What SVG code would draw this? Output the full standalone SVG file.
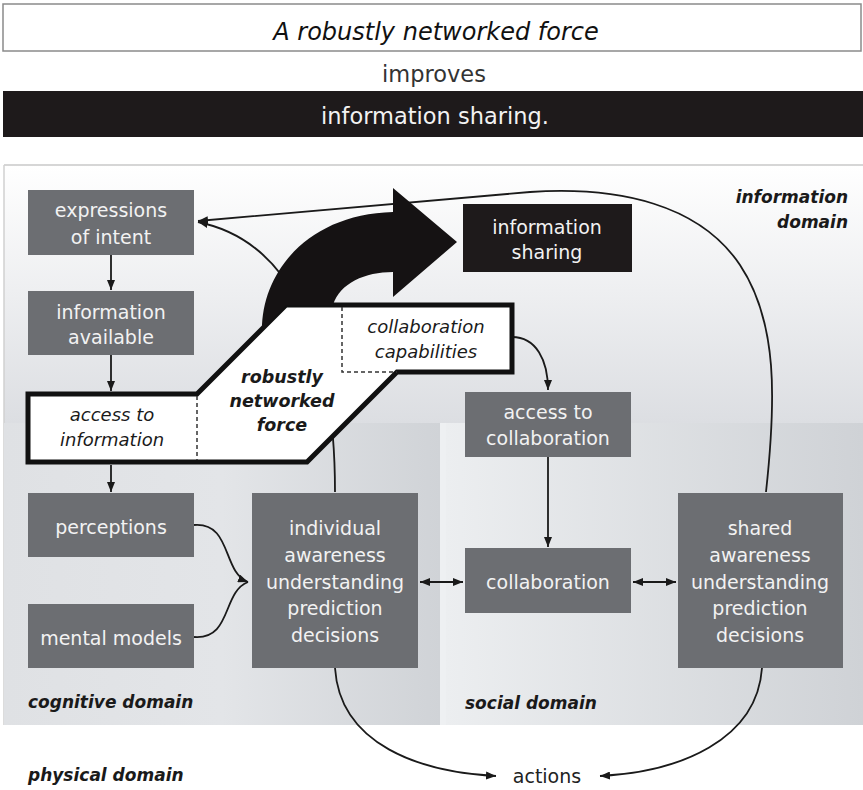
<svg xmlns="http://www.w3.org/2000/svg" width="863" height="790" viewBox="0 0 863 790">
<defs>
<linearGradient id="gInfo" x1="0" y1="0" x2="0" y2="1">
<stop offset="0" stop-color="#ffffff"/><stop offset="1" stop-color="#dcdee2"/>
</linearGradient>
<linearGradient id="gCog" x1="0" y1="0" x2="1" y2="0">
<stop offset="0" stop-color="#dfe1e4"/><stop offset="0.5" stop-color="#e3e5e8"/><stop offset="1" stop-color="#d0d3d7"/>
</linearGradient>
<linearGradient id="gSoc" x1="0" y1="0" x2="1" y2="0">
<stop offset="0" stop-color="#eceef0"/><stop offset="1" stop-color="#cfd2d6"/>
</linearGradient>
<marker id="ah" viewBox="0 0 10 8" refX="10" refY="4" markerWidth="10" markerHeight="8" markerUnits="userSpaceOnUse" orient="auto-start-reverse">
<path d="M0,0 L10,4 L0,8 z" fill="#1a1a1a"/>
</marker>
<style>
.node{fill:#6c6e72}
.nt{font-family:"DejaVu Sans",Verdana,sans-serif;font-size:19px;fill:#f2f2f2;text-anchor:middle}
.dom{font-family:"DejaVu Sans",Verdana,sans-serif;font-size:17px;font-weight:bold;font-style:italic;fill:#1a1a1a}
.it{font-family:"DejaVu Sans",Verdana,sans-serif;font-size:18px;font-style:italic;fill:#1a1a1a;text-anchor:middle}
.con{fill:none;stroke:#1a1a1a;stroke-width:1.8}
.dash{fill:none;stroke:#333;stroke-width:1.5;stroke-dasharray:4 3}
</style>
</defs>
<rect width="863" height="790" fill="#ffffff"/>
<!-- header -->
<g id="header">
<rect x="3" y="4" width="858" height="47" fill="#ffffff" stroke="#8a8a8a" stroke-width="1.5"/>
<text x="436" y="40" style="font-family:'DejaVu Sans',Verdana,sans-serif;font-size:24px;font-style:italic;fill:#111;text-anchor:middle">A robustly networked force</text>
<text x="434" y="82" style="font-family:'DejaVu Sans',Verdana,sans-serif;font-size:22.5px;fill:#333;text-anchor:middle">improves</text>
<rect x="3" y="91" width="860" height="46" fill="#1e1a1b"/>
<text x="435" y="124" style="font-family:'DejaVu Sans',Verdana,sans-serif;font-size:22.5px;fill:#f2f2f2;text-anchor:middle">information sharing.</text>
</g>
<!-- domains -->
<g id="domains">
<rect x="4" y="165" width="859" height="258" fill="url(#gInfo)"/>
<line x1="4" y1="165" x2="863" y2="165" stroke="#c8c8c8" stroke-width="1.5"/>
<line x1="4" y1="165" x2="4" y2="725" stroke="#d0d0d0" stroke-width="1.5"/>
<rect x="4" y="423" width="436" height="302" fill="url(#gCog)"/>
<rect x="440" y="423" width="6" height="302" fill="#eef0f2"/>
<rect x="446" y="423" width="417" height="302" fill="url(#gSoc)"/>
<text class="dom" x="848" y="203" text-anchor="end">information</text>
<text class="dom" x="848" y="228" text-anchor="end">domain</text>
<text class="dom" x="28" y="708">cognitive domain</text>
<text class="dom" x="465" y="709">social domain</text>
<text class="dom" x="28" y="781">physical domain</text>
</g>
<!-- connectors -->
<g id="connectors">
<path class="con" d="M111,255 L111,290" marker-end="url(#ah)"/>
<path class="con" d="M111,355 L111,391" marker-end="url(#ah)"/>
<path class="con" d="M111,465 L111,492" marker-end="url(#ah)"/>
<path class="con" d="M194,525 C232,522 222,572 248,582" marker-end="url(#ah)"/>
<path class="con" d="M194,637 C232,640 222,592 248,582"/>
<path class="con" d="M420,582 L463,582" marker-start="url(#ah)" marker-end="url(#ah)"/>
<path class="con" d="M633,582 L676,582" marker-start="url(#ah)" marker-end="url(#ah)"/>
<path class="con" d="M548,457 L548,547" marker-end="url(#ah)"/>
<path class="con" d="M512,337 C536,337 548,360 548,390" marker-end="url(#ah)"/>
<path class="con" d="M335,492 C335,330 285,240 198,222" marker-end="url(#ah)"/>
<path class="con" d="M766,492 C776,400 778,322 740,265 C700,205 620,186 530,192 L198,221" marker-end="url(#ah)"/>
<path class="con" d="M335,668 C340,745 420,772 496,776" marker-end="url(#ah)"/>
<path class="con" d="M762,668 C757,740 680,772 600,776" marker-end="url(#ah)"/>
</g>
<!-- robustly networked force shape -->
<g id="robust-force">
<polygon points="28,394 197,394 286,305 512,305 512,372 397,372 307,462 28,462" fill="#ffffff" stroke="#111" stroke-width="5" stroke-linejoin="miter"/>
<line class="dash" x1="197" y1="396" x2="197" y2="460"/>
<path class="dash" d="M342,307 L342,372 L397,372"/>
<path d="M262,330 C262,270 310,214 393,212 L393,188 L457,242 L393,297 L393,272 C365,272 340,283 333,305 L286,305 Z" fill="#151213"/>
<text class="it" x="112" y="421">access to</text>
<text class="it" x="112" y="446">information</text>
<text class="it" x="426" y="333">collaboration</text>
<text class="it" x="426" y="358">capabilities</text>
<text style="font-family:'DejaVu Sans',Verdana,sans-serif;font-size:17.5px;font-weight:bold;font-style:italic;fill:#1a1a1a;text-anchor:middle" x="282"><tspan x="282" y="383">robustly</tspan><tspan x="282" y="407">networked</tspan><tspan x="282" y="431">force</tspan></text>
</g>
<!-- nodes -->
<g id="expressions-of-intent">
<rect class="node" x="28" y="190" width="166" height="65"/>
<text class="nt" x="111" y="217">expressions</text>
<text class="nt" x="111" y="244">of intent</text>
</g>
<g id="information-available">
<rect class="node" x="28" y="291" width="166" height="64"/>
<text class="nt" x="111" y="319">information</text>
<text class="nt" x="111" y="344">available</text>
</g>
<g id="information-sharing">
<rect x="463" y="204" width="169" height="68" fill="#1e1a1b"/>
<text class="nt" x="547" y="234">information</text>
<text class="nt" x="547" y="259">sharing</text>
</g>
<g id="access-to-collaboration">
<rect class="node" x="465" y="392" width="166" height="65"/>
<text class="nt" x="548" y="419">access to</text>
<text class="nt" x="548" y="445">collaboration</text>
</g>
<g id="perceptions">
<rect class="node" x="28" y="493" width="166" height="64"/>
<text class="nt" x="111" y="534">perceptions</text>
</g>
<g id="mental-models">
<rect class="node" x="28" y="604" width="166" height="64"/>
<text class="nt" x="111" y="645">mental models</text>
</g>
<g id="individual">
<rect class="node" x="252" y="493" width="166" height="175"/>
<text class="nt" x="335" y="535">individual</text>
<text class="nt" x="335" y="562">awareness</text>
<text class="nt" x="335" y="589">understanding</text>
<text class="nt" x="335" y="615">prediction</text>
<text class="nt" x="335" y="642">decisions</text>
</g>
<g id="collaboration">
<rect class="node" x="465" y="548" width="166" height="65"/>
<text class="nt" x="548" y="589">collaboration</text>
</g>
<g id="shared">
<rect class="node" x="678" y="493" width="165" height="175"/>
<text class="nt" x="760" y="535">shared</text>
<text class="nt" x="760" y="562">awareness</text>
<text class="nt" x="760" y="589">understanding</text>
<text class="nt" x="760" y="615">prediction</text>
<text class="nt" x="760" y="642">decisions</text>
</g>
<g id="actions">
<text x="547" y="783" style="font-family:'DejaVu Sans',Verdana,sans-serif;font-size:19px;fill:#222;text-anchor:middle">actions</text>
</g>
</svg>
